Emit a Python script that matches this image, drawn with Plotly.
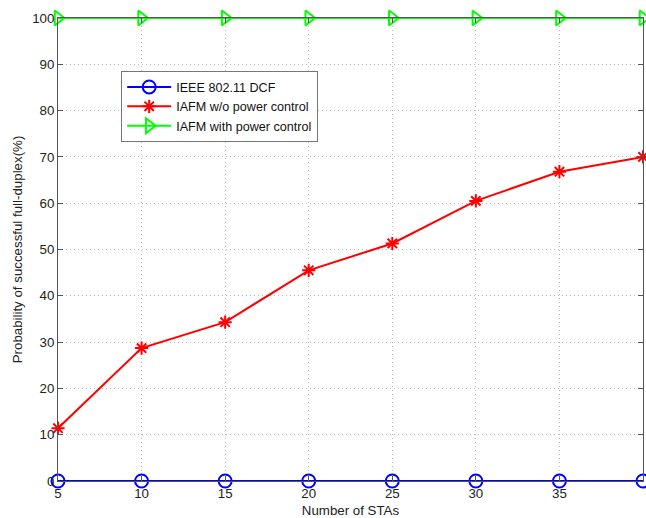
import plotly.graph_objects as go

# Number of stations on the x axis
stas = [5, 10, 15, 20, 25, 30, 35, 40]

# Probability of successful full-duplex (%) for each scheme
dcf = [0, 0, 0, 0, 0, 0, 0, 0]
iafm_no_pc = [11.4, 28.7, 34.3, 45.5, 51.3, 60.5, 66.8, 70.0]
iafm_pc = [100, 100, 100, 100, 100, 100, 100, 100]

x_ticks = [5, 10, 15, 20, 25, 30, 35, 40]
y_ticks = [0, 10, 20, 30, 40, 50, 60, 70, 80, 90, 100]

FONT = "Liberation Sans, Arial, sans-serif"
FS = 13.3

fig = go.Figure()
fig.add_trace(go.Scatter(
    x=stas, y=dcf, name="IEEE 802.11 DCF", mode="lines+markers",
    line=dict(color="#0000ff", width=2),
    marker=dict(symbol="circle-open", size=13, color="#0000ff",
                line=dict(width=2, color="#0000ff")),
    cliponaxis=False,
))
fig.add_trace(go.Scatter(
    x=stas, y=iafm_no_pc, name="IAFM w/o power control", mode="lines+markers",
    line=dict(color="#ff0000", width=2),
    marker=dict(symbol="asterisk-open", size=11, color="#ff0000",
                line=dict(width=2, color="#ff0000")),
    cliponaxis=False,
))
fig.add_trace(go.Scatter(
    x=stas, y=iafm_pc, name="IAFM with power control", mode="lines+markers",
    line=dict(color="#00ff00", width=2),
    marker=dict(symbol="triangle-right-open", size=13, color="#00ff00",
                line=dict(width=2, color="#00ff00")),
    cliponaxis=False,
))

axis_common = dict(
    showline=True, linecolor="#555555", linewidth=1, mirror="ticks",
    ticks="inside", ticklen=5, tickcolor="#555555",
    showgrid=True, gridcolor="#bdbdbd", griddash="1px,3px", gridwidth=1,
    zeroline=False, tickfont=dict(family=FONT, size=FS, color="#222222"),
)

fig.update_layout(
    width=646, height=518,
    margin=dict(l=58, r=3, t=18, b=37),
    paper_bgcolor="white", plot_bgcolor="white",
    font=dict(family=FONT, size=FS, color="#222222"),
    showlegend=True,
    legend=dict(
        x=0.108, y=0.885, xanchor="left", yanchor="top",
        bgcolor="white", bordercolor="#777777", borderwidth=1,
        font=dict(family=FONT, size=12.6, color="#111111"),
        tracegroupgap=0, itemwidth=44,
    ),
    xaxis=dict(
        range=[5, 40], tickvals=x_ticks,
        title=dict(text="Number of STAs", standoff=5,
                   font=dict(family=FONT, size=FS, color="#222222")),
        **axis_common,
    ),
    yaxis=dict(
        range=[0, 100], tickvals=y_ticks,
        title=dict(text="Probability of successful full-duplex(%)", standoff=6,
                   font=dict(family=FONT, size=FS, color="#222222")),
        **axis_common,
    ),
)

fig.write_html("out.html")
